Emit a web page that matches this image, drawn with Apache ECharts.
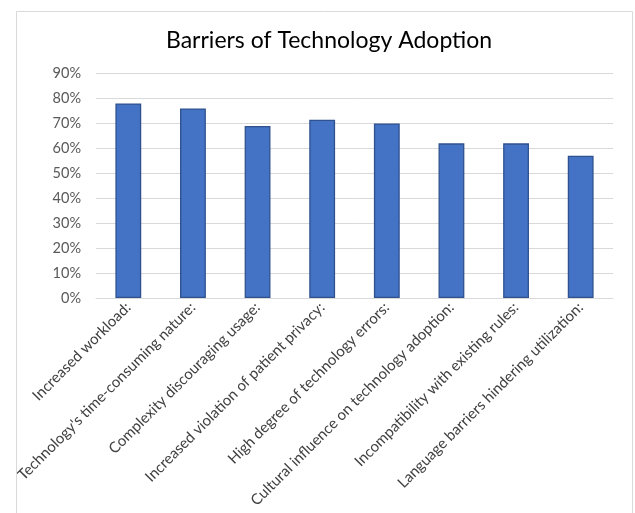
<!DOCTYPE html>
<html><head><meta charset="utf-8">
<script src="https://cdn.jsdelivr.net/npm/echarts@6/dist/echarts.min.js"></script>
<style>html,body{margin:0;padding:0;background:#fff}#c{width:635px;height:513px}</style>
</head><body><div id="c"></div>
<script>
const categories = ["Increased workload:", "Technology's time-consuming nature:", "Complexity discouraging usage:", "Increased violation of patient privacy:", "High degree of technology errors:", "Cultural influence on technology adoption:", "Incompatibility with existing rules:", "Language barriers hindering utilization:"];
const values = [78, 76, 69, 71.5, 70, 62, 62, 57];
const chartTitle = "Barriers of Technology Adoption";
const FONT = "Lato, 'Open Sans', sans-serif";
const chart = echarts.init(document.getElementById('c'), null, {renderer: 'canvas'});
chart.setOption({
  animation: false,
  backgroundColor: '#ffffff',
  title: {text: chartTitle, left: 161, top: 24,
    textStyle: {fontFamily: FONT, fontSize: 23, fontWeight: 'normal', color: '#000000'}},
  graphic: [{type: 'rect', shape: {x: 16.5, y: 11.5, width: 616, height: 520},
    style: {fill: 'none', stroke: '#d9d9d9', lineWidth: 1}, z: 100}],
  grid: {left: 96, right: 22, top: 73.5, bottom: 215, containLabel: false},
  xAxis: {type: 'category', data: categories,
    axisLine: {lineStyle: {color: '#d9d9d9', width: 1}},
    axisTick: {show: false},
    axisLabel: {rotate: 45, interval: 0, fontFamily: FONT, fontSize: 15, color: '#404040', margin: 7}},
  yAxis: {type: 'value', min: 0, max: 90, interval: 10,
    axisLabel: {formatter: v => v + '%', fontFamily: FONT, fontSize: 14.5, color: '#595959', margin: 15},
    splitLine: {lineStyle: {color: '#d9d9d9', width: 1}},
    axisLine: {show: false}, axisTick: {show: false}},
  series: [{type: 'bar', data: values, barWidth: '40%',
    itemStyle: {color: '#4472c4', borderColor: '#2f528f', borderWidth: 1.3}}]
});
</script></body></html>
